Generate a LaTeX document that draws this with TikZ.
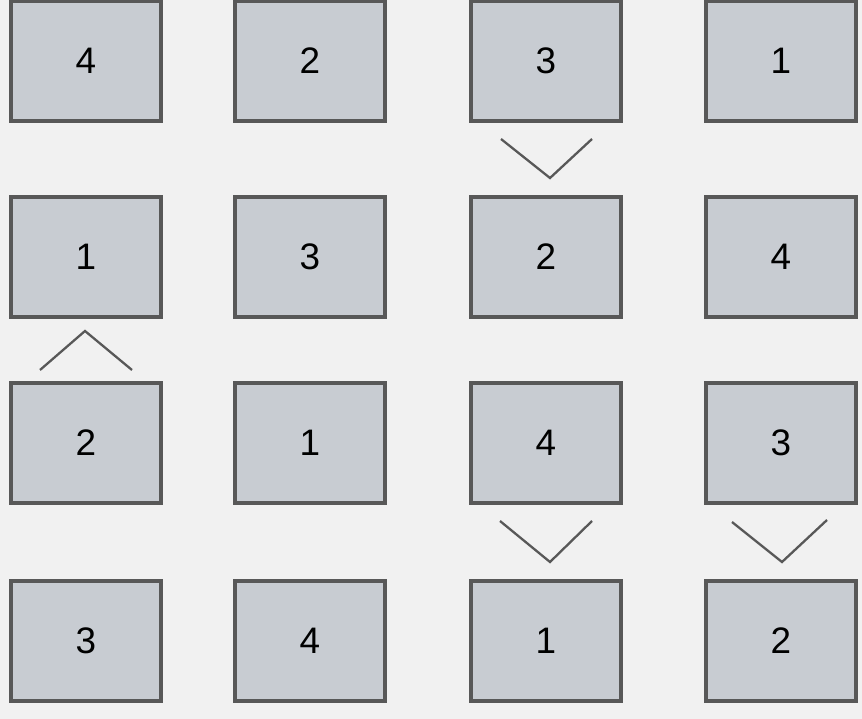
\documentclass[tikz,border=0pt]{standalone}
\usepackage{fontspec}
\setmainfont{Liberation Sans}
\usetikzlibrary{positioning,calc}
\definecolor{tilefill}{RGB}{200,204,210}
\definecolor{tileedge}{RGB}{88,88,88}
\definecolor{paper}{RGB}{241,241,241}

\begin{document}
\begin{tikzpicture}[x=0.02cm, y=-0.02cm,
  tile/.style={draw=tileedge, fill=tilefill, line width=2pt, minimum width=3.0cm, minimum height=2.4cm, inner sep=0pt, font=\fontsize{21}{25}\selectfont},
  vmark/.style={draw=tileedge, line width=1.3pt}]
\fill[paper] (0,0) rectangle (862,719);
\useasboundingbox (0,0) rectangle (862,719);
% row 1
\node[tile] (A1) at (86,61) {4};
\node[tile] (A2) at (310,61) {2};
\node[tile] (A3) at (546,61) {3};
\node[tile] (A4) at (781,61) {1};
% row 2
\node[tile] (B1) at (86,257) {1};
\node[tile] (B2) at (310,257) {3};
\node[tile] (B3) at (546,257) {2};
\node[tile] (B4) at (781,257) {4};
% row 3
\node[tile] (C1) at (86,443) {2};
\node[tile] (C2) at (310,443) {1};
\node[tile] (C3) at (546,443) {4};
\node[tile] (C4) at (781,443) {3};
% row 4
\node[tile] (D1) at (86,641) {3};
\node[tile] (D2) at (310,641) {4};
\node[tile] (D3) at (546,641) {1};
\node[tile] (D4) at (781,641) {2};
% marks between tiles
\coordinate (m1) at (550,178);
\coordinate (m2) at (85,331);
\coordinate (m3) at (550,562);
\coordinate (m4) at (782,562);
\draw[vmark] ($(m1)+(-49,-39)$) -- (m1) -- ($(m1)+(42,-39)$);
\draw[vmark] ($(m2)+(-45,39)$) -- (m2) -- ($(m2)+(47,39)$);
\draw[vmark] ($(m3)+(-50,-41)$) -- (m3) -- ($(m3)+(42,-41)$);
\draw[vmark] ($(m4)+(-50,-40)$) -- (m4) -- ($(m4)+(45,-42)$);
\end{tikzpicture}
\end{document}
